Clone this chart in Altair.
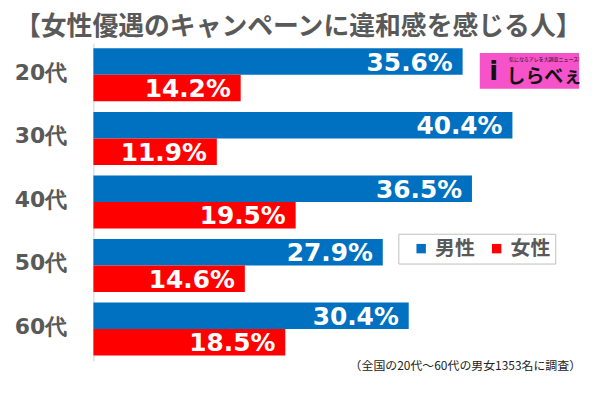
import altair as alt
import pandas as pd

ages = ["20代", "30代", "40代", "50代", "60代"]
genders = ["男性", "女性"]
male = [35.6, 40.4, 36.5, 27.9, 30.4]
female = [14.2, 11.9, 19.5, 14.6, 18.5]
colors = ["#0070c0", "#ff0000"]

title_text = "【女性優遇のキャンペーンに違和感を感じる人】"
note_text = "（全国の20代～60代の男女1353名に調査）"

rows = []
for a, m, f in zip(ages, male, female):
    rows.append({"age": a, "gender": "男性", "value": m})
    rows.append({"age": a, "gender": "女性", "value": f})
df = pd.DataFrame(rows)

base = alt.Chart(df).encode(
    y=alt.Y(
        "age:N",
        sort=ages,
        title=None,
        scale=alt.Scale(paddingInner=0.166, paddingOuter=0.083),
        axis=alt.Axis(
            ticks=False,
            tickSize=0,
            labelPadding=27,
            labelFont="DejaVu Sans",
            labelFontWeight="bold",
            labelFontSize=22,
            labelColor="#595959",
            labelBaseline="middle",
            labelOffset=-2,
            domainColor="#d0d0d0",
            grid=False,
        ),
    ),
    yOffset=alt.YOffset("gender:N", sort=genders, scale=alt.Scale(paddingInner=0, paddingOuter=0)),
    x=alt.X("value:Q", scale=alt.Scale(domain=[0, 47.5]), axis=None),
)

bars = base.mark_bar().encode(
    color=alt.Color(
        "gender:N",
        sort=genders,
        scale=alt.Scale(domain=genders, range=colors),
        legend=alt.Legend(
            title=None,
            orient="none",
            legendX=307,
            legendY=192,
            direction="horizontal",
            symbolType="square",
            symbolSize=90,
            symbolStrokeWidth=0,
            symbolOffset=8,
            labelFont="Noto Sans CJK JP",
            labelFontWeight="bold",
            labelFontSize=20,
            labelColor="#595959",
            labelOffset=4,
            columnPadding=4,
            padding=5,
            strokeColor="#bfbfbf",
        ),
    )
)

labels = base.transform_calculate(
    label="format(datum.value, '.1f') + '%'"
).mark_text(
    align="right",
    baseline="middle",
    dx=-10,
    dy=1,
    color="white",
    font="DejaVu Sans",
    fontWeight="bold",
    fontSize=25,
).encode(text="label:N")

one = pd.DataFrame({"t": [""]})

logo_box = alt.Chart(one).mark_rect(color="#f652c9").encode(
    x=alt.value(389), x2=alt.value(489), y=alt.value(10), y2=alt.value(46)
)
logo_i = alt.Chart(one).mark_text(
    text="i", font="DejaVu Sans", fontWeight="bold", fontSize=26, color="#111111", baseline="middle"
).encode(x=alt.value(403), y=alt.value(29))
logo_name = alt.Chart(one).mark_text(
    text="しらべぇ", font="Noto Sans CJK JP", fontWeight="bold", fontSize=19, color="#111111", baseline="middle"
).encode(x=alt.value(454), y=alt.value(34))
logo_tag = alt.Chart(one).mark_text(
    text="気になるアレを大調査ニュース!", font="Noto Sans CJK JP", fontSize=5, color="#111111", baseline="middle"
).encode(x=alt.value(454), y=alt.value(16))

note = alt.Chart(one).mark_text(
    text=note_text, font="Noto Sans CJK JP", fontSize=12, color="#222222", align="right", baseline="middle"
).encode(x=alt.value(491), y=alt.value(325))

chart = alt.layer(bars, labels, logo_box, logo_i, logo_name, logo_tag, note).properties(
    width=496,
    height=320,
    autosize=alt.AutoSizeParams(type="none"),
    padding={"left": 86, "top": 34, "right": 6, "bottom": 24},
    title=alt.TitleParams(
        title_text,
        anchor="start",
        frame="group",
        dx=-79,
        offset=3,
        font="Noto Sans CJK JP",
        fontWeight="bold",
        fontSize=26,
        color="#595959",
    ),
).configure_view(stroke=None)

chart.save("out.html", embed_options={"renderer": "svg", "actions": False})
